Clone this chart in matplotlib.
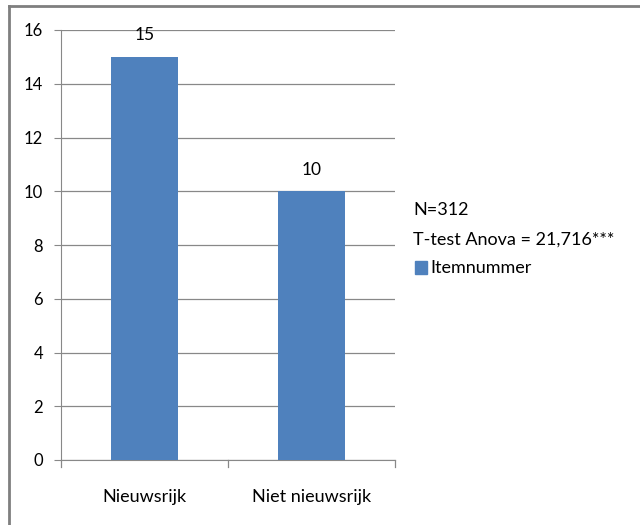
import matplotlib
matplotlib.use("Agg")
import matplotlib.pyplot as plt
from matplotlib.lines import Line2D
from matplotlib.patches import Rectangle

categories = ["Nieuwsrijk", "Niet nieuwsrijk"]
values = [15, 10]
series_name = "Itemnummer"
notes = ["N=312", "T-test Anova = 21,716***"]
y_ticks = [0, 2, 4, 6, 8, 10, 12, 14, 16]

BAR = "#4F81BD"
GRID = "#888888"
plt.rcParams["font.family"] = ["Lato", "DejaVu Sans"]

fig = plt.figure(figsize=(6.4, 5.25), dpi=100)
ax = fig.add_axes([61 / 640, 1 - 460 / 525, 334 / 640, 430 / 525])

x = list(range(len(categories)))
ax.bar(x, values, width=0.4, color=BAR, zorder=3)
for xi, v in zip(x, values):
    ax.text(xi, v + 0.5, str(v), ha="center", va="bottom", fontsize=12.5)

ax.set_xlim(-0.5, len(categories) - 0.5)
ax.set_ylim(0, 16)
ax.set_yticks(y_ticks)
ax.set_yticklabels([str(t) for t in y_ticks], fontsize=12)
ax.yaxis.grid(True, color=GRID, linewidth=0.9, zorder=0)
ax.tick_params(axis="y", length=5, color=GRID, pad=8)

# category labels, with tick marks on the category boundaries
ax.set_xticks(x)
ax.set_xticklabels(categories, fontsize=13)
ax.tick_params(axis="x", length=0, pad=21)
for b in [-0.5 + i for i in range(len(categories) + 1)]:
    ax.plot([b, b], [0, -0.25], color=GRID, lw=0.9, clip_on=False)

for s in ["top", "right"]:
    ax.spines[s].set_visible(False)
ax.spines["left"].set_color(GRID)
ax.spines["bottom"].set_color(GRID)

# notes and legend on the right
fig.text(413 / 640, 1 - 210 / 525, notes[0], fontsize=13, va="center")
fig.text(413 / 640, 1 - 240 / 525, notes[1], fontsize=13, va="center")
fig.patches.append(Rectangle((415 / 640, 1 - 274 / 525), 12 / 640, 13 / 525,
                             transform=fig.transFigure, color=BAR))
fig.text(430 / 640, 1 - 268 / 525, series_name, fontsize=13, va="center")

# chart frame (left and top edges)
fig.add_artist(Line2D([8.5 / 640, 8.5 / 640], [0, 1 - 6 / 525],
                      transform=fig.transFigure, color="#7f7f7f", lw=2))
fig.add_artist(Line2D([8.5 / 640, 1], [1 - 6 / 525, 1 - 6 / 525],
                      transform=fig.transFigure, color="#7f7f7f", lw=2))

fig.savefig("out.png", dpi=100)
